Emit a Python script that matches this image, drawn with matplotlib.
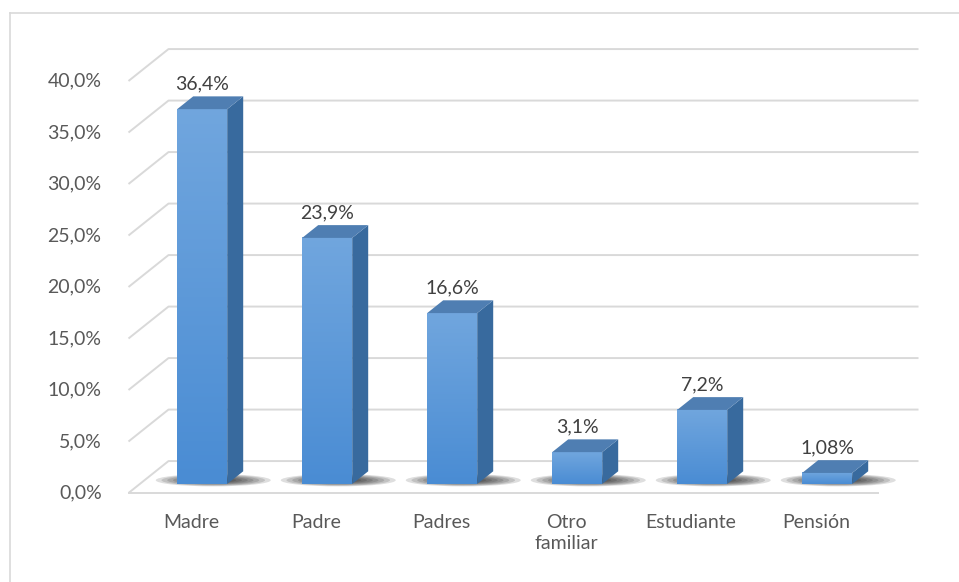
import numpy as np
import matplotlib.pyplot as plt
from matplotlib.patches import Polygon, Ellipse
from matplotlib.lines import Line2D

plt.rcParams['font.family'] = ['Lato', 'DejaVu Sans']

categories = ["Madre", "Padre", "Padres", "Otro\nfamiliar", "Estudiante", "Pensión"]
values = [36.4, 23.9, 16.6, 3.1, 7.2, 1.08]
value_labels = ["36,4%", "23,9%", "16,6%", "3,1%", "7,2%", "1,08%"]
ticks = [0, 5, 10, 15, 20, 25, 30, 35, 40]
tick_labels = ["0,0%", "5,0%", "10,0%", "15,0%", "20,0%", "25,0%", "30,0%", "35,0%", "40,0%"]

W, H = 959, 582
fig = plt.figure(figsize=(W / 100, H / 100), dpi=100)

# pixel mapping of the front plane: px = 191 + 125*x, py = 493 - 10.3*y
def px(x):
    return 191 + 125 * x

def py(y):
    return 493 - 10.3 * y

x0, x1 = -0.9, 6.0
y0, y1 = -10.0, 45.0
ax = fig.add_axes([px(x0) / W, 1 - py(y0) / H,
                   (px(x1) - px(x0)) / W, (py(y0) - py(y1)) / H])
ax.set_xlim(x0, x1)
ax.set_ylim(y0, y1)
ax.axis("off")

# oblique depth projection
DX, DY = 0.32, 3.1

def P(x, y, z):
    return (x + DX * z, y + DY * z)

grid_c = "#d9d9d9"
n = len(categories)
xl, xr = -0.5, n - 0.5

# walls / floor gridlines
for t in ticks:
    pts = [P(xl, t, 0), P(xl, t, 1), P(xr, t, 1)]
    ax.plot([p[0] for p in pts], [p[1] for p in pts], color=grid_c, lw=1.4,
            zorder=1, solid_capstyle="butt")
ax.plot([P(xl, 0, 0)[0], P(xr, 0, 0)[0]], [0, 0], color=grid_c, lw=1.4, zorder=1)

# tick labels
text_c = "#595959"
fs = 14
for t, lab in zip(ticks, tick_labels):
    ax.text(-0.715, t, lab, ha="right", va="center", fontsize=fs, color=text_c)

hw, z0, z1 = 0.2, 0.28, 0.68
front_top, front_bot = np.array([0.44, 0.65, 0.87]), np.array([0.29, 0.55, 0.83])
for i, (v, lab, cat) in enumerate(zip(values, value_labels, categories)):
    # shadow on the floor
    cx, cy = P(i + 0.05, 0, z0 + 0.12)
    for k in range(8):
        s = 1 - k * 0.1
        ax.add_patch(Ellipse((cx, cy), 0.92 * s, 1.2 * s, color="black",
                             alpha=0.13, lw=0, zorder=2))
    # front face with gradient
    fx, fy = P(i - hw, 0, z0)
    grad = np.linspace(0, 1, 50)[:, None]
    img = front_bot[None, None, :] * (1 - grad[..., None]) + front_top[None, None, :] * grad[..., None]
    img = np.repeat(img, 2, axis=1)
    ax.imshow(img, extent=[fx, fx + 2 * hw, fy, fy + v], origin="lower",
              aspect="auto", zorder=4, interpolation="bilinear")
    # side face
    side = [P(i + hw, 0, z0), P(i + hw, 0, z1), P(i + hw, v, z1), P(i + hw, v, z0)]
    ax.add_patch(Polygon(side, closed=True, fc="#386a9e", ec="none", zorder=4))
    # top face
    top = [P(i - hw, v, z0), P(i + hw, v, z0), P(i + hw, v, z1), P(i - hw, v, z1)]
    ax.add_patch(Polygon(top, closed=True, fc="#4f7eb2", ec="none", zorder=5))
    # value label
    lx, ly = P(i, v, z1)
    ax.text(i + DX * z0, ly + 0.4, lab, ha="center", va="bottom",
            fontsize=fs, color="#404040", zorder=6)
    # category label
    ax.text(i, -2.0, cat, ha="center", va="top", fontsize=fs, color=text_c,
            linespacing=1.3)

ax.set_xlim(x0, x1)
ax.set_ylim(y0, y1)

# outer chart border
fig.add_artist(Line2D([10 / W, 10 / W], [0, 1 - 13 / H], color=grid_c, lw=1.2))
fig.add_artist(Line2D([10 / W, 1], [1 - 13 / H, 1 - 13 / H], color=grid_c, lw=1.2))

fig.savefig("out.png", dpi=100)
